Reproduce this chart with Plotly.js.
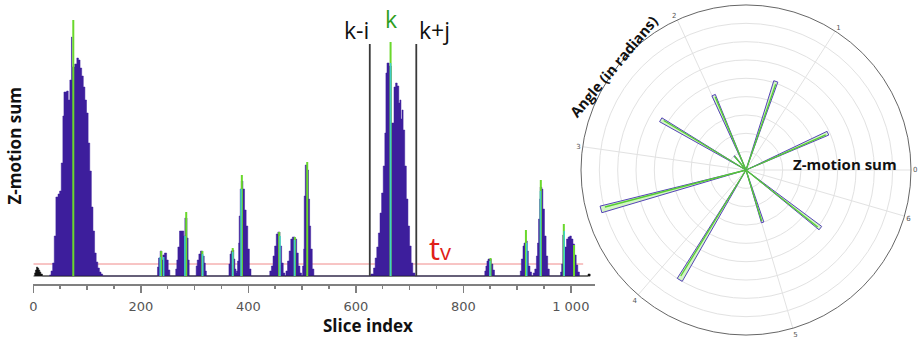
<!DOCTYPE html>
<html><head><meta charset="utf-8">
<script src="https://cdn.plot.ly/plotly-3.0.1.min.js"></script>
<style>html,body{margin:0;padding:0;background:#fff;}#chart{width:921px;height:340px;}</style>
</head><body><div id="chart"></div>
<script>
// ---- Histogram envelope (slice index, Z-motion sum), step-wise ----
const histX = [
  30,33,36,39,42,46,49,52,55,57,62,65,68,71,72,77,81,84,87,90,93,96,99,102,105,108,111,114,117,120,123,126,129,
  231,233,236,239,241,244,248,251,254,
  265,267,269,272,280,282,286,288,290,
  303,305,308,311,315,318,320,322,
  364,366,368,370,373,375,
  377,378,380,382,383,385,387,390,393,396,399,402,405,
  440,443,446,449,452,455,459,462,465,468,
  470,473,476,479,482,487,490,493,496,499,
  501,503,504,506,510,512,514,516,519,522,
  628,633,636,639,642,645,648,651,654,656,658,662,666,671,674,677,680,682,684,686,688,691,694,697,700,703,706,710,
  840,842,844,846,852,855,858,
  906,908,911,913,916,919,921,924,927,
  930,933,936,938,940,942,943,946,948,951,954,957,960,
  981,983,985,988,992,995,998,1001,1004,1007,1010,1013,1016
];
const histY = [
  1,5,13,40,79,82,85,113,160,184,185,176,196,239,209,212,218,216,208,200,189,176,163,133,105,69,45,23,14,8,4,2,0,
  9,18,25,16,21,23,16,6,0,
  7,16,29,45,40,58,38,16,0,
  10,16,22,25,20,13,5,0,
  12,22,25,26,17,7,
  3,5,15,33,60,87,95,87,66,50,27,7,0,
  5,10,20,30,42,44,30,13,3,0,
  5,15,25,37,39,37,23,10,3,0,
  10,27,80,111,106,77,50,27,7,0,
  2,8,18,29,43,63,83,110,143,203,213,210,153,189,193,190,173,176,157,166,146,110,77,50,30,13,3,0,
  5,10,15,17,12,6,0,
  5,17,30,33,35,25,10,4,0,
  3,7,20,33,57,77,89,87,67,40,20,7,0,
  4,12,41,29,37,39,40,37,32,21,11,4,0
];
const blackX = [2,4,6,8,10,12,14,17, 1032,1036];
const blackY = [3,6,9,8,6,4,2,0, 2,0];
// peak markers (green) and boundary markers (cyan)
const peakX = [74.4,238,284.5,314.5,371,388,457.5,486.5,509.6,664.7,850.6,916.5,944.2,987,1006];
const peakY = [256,25,64,25,28,101,44,39,114,234,18,46,96,52,31];
const cyanX = [236,242.5,282,315,371,386.5,459,486,664.7,849.5,918,943.5,987.8];
const cyanY = [19,19,40,22,24,87,40,36,213,15,33,85,45];
// window k-i, k+j and threshold t_v
const windowX = [626,712.5];
const windowTop = 232;
const thresholdTv = 12;
const thresholdEnd = 1023;
const baselineEnd = 1036;
// x ticks
const tickVals = [0,200,400,600,800,1000];
const tickText = ['0','200','400','600','800','1 000'];
// polar star: angle (degrees) and Z-motion sum
const spikeDeg = [24.2,71.4,113.4,130,149.5,195.2,238.9,287.6,322];
const spikeLen = [4.9,5.1,4.45,1.0,5.4,8.2,7.0,3.0,5.15];
const angTickRad = [0,1,2,3,4,5,6];

const W=921,H=340;
const PX=x=>x/W, PY=y=>1-y/H;

function segs(xs, ys){
  const X=[],Y=[];
  xs.forEach((x,i)=>{X.push(x,x,null);Y.push(0,ys[i],null);});
  return {X,Y};
}
const g=segs(peakX,peakY), c=segs(cyanX,cyanY);
const wl=segs(windowX, windowX.map(()=>windowTop));

const purple='#3d1e9c';
const traces = [
  {x:[0,thresholdEnd],y:[thresholdTv,thresholdTv],mode:'lines',line:{color:'#f08a8a',width:1},hoverinfo:'skip'},
  {x:[0,baselineEnd],y:[0,0],mode:'lines',line:{color:'#9a9a9a',width:2},hoverinfo:'skip'},
  {x:histX,y:histY,mode:'lines',line:{shape:'hv',color:purple,width:0.5},fill:'tozeroy',fillcolor:purple,hoverinfo:'skip'},
  {x:blackX,y:blackY,mode:'lines',line:{shape:'hv',color:'#111',width:0.5},fill:'tozeroy',fillcolor:'#111',hoverinfo:'skip'},
  {x:g.X,y:g.Y,mode:'lines',line:{color:'#6ad82c',width:2},hoverinfo:'skip'},
  {x:c.X,y:c.Y,mode:'lines',line:{color:'#3fd0c8',width:1.5},hoverinfo:'skip'},
  {x:wl.X,y:wl.Y,mode:'lines',line:{color:'#3a3a3a',width:1.8},hoverinfo:'skip'},
  {x:[0],y:[0],xaxis:'x2',yaxis:'y',mode:'markers',marker:{opacity:0},hoverinfo:'skip'}
];
const w=1.3;
spikeDeg.forEach((t,i)=>{
  const L=spikeLen[i];
  traces.push({type:'scatterpolar',subplot:'polar',r:[0,L,L,0],theta:[t,t-w,t+w,t],mode:'lines',
    fill:'toself',fillcolor:'rgba(200,245,180,0.8)',line:{color:'#5542b8',width:1},hoverinfo:'skip'});
  traces.push({type:'scatterpolar',subplot:'polar',r:[0,L*0.97],theta:[t-0.3,t-0.5],mode:'lines',
    line:{color:'#55cc33',width:1.3},hoverinfo:'skip'});
});

const tf={family:'Open Sans',color:'#111'};
function ann(text,x,y,font,extra){
  return Object.assign({text:text,xref:'paper',yref:'paper',x:PX(x),y:PY(y),xanchor:'center',yanchor:'middle',showarrow:false,font:font},extra||{});
}
const layout = {
  width:W,height:H,margin:{l:0,r:0,t:0,b:0},paper_bgcolor:'#fff',plot_bgcolor:'rgba(0,0,0,0)',
  showlegend:false,
  xaxis:{domain:[PX(33.3),PX(595)],range:[0,1045],showgrid:false,zeroline:false,showline:true,
    linecolor:'#808080',linewidth:2,ticks:'outside',ticklen:7,tickwidth:1.5,tickcolor:'#808080',
    tickmode:'array',tickvals:tickVals,ticktext:tickText,
    tickfont:{family:'DejaVu Sans',size:13,color:'#555'},ticklabelstandoff:2,
    minor:{ticks:'outside',tickmode:'linear',tick0:0,dtick:50,ticklen:3,tickwidth:1.5,tickcolor:'#808080',showgrid:false},
    anchor:'y',fixedrange:true},
  xaxis2:{overlaying:'x',anchor:'y',range:[0,1045],showline:false,showgrid:false,zeroline:false,
    ticks:'outside',ticklen:5,tickwidth:1.5,tickcolor:'#808080',tickmode:'linear',tick0:0,dtick:100,showticklabels:false},
  yaxis:{domain:[PY(284),PY(10)],range:[-8,266],showgrid:false,zeroline:false,showline:false,showticklabels:false,ticks:'',fixedrange:true},
  polar:{domain:{x:[PX(746-165),PX(746+165)],y:[PY(335),PY(5)]},bgcolor:'rgba(0,0,0,0)',
    radialaxis:{range:[0,9],dtick:1,showticklabels:false,ticks:'',showline:false,gridcolor:'#e2e2e2',gridwidth:1},
    angularaxis:{tickmode:'array',tickvals:angTickRad.map(r=>r*180/Math.PI),ticktext:angTickRad.map(String),
      direction:'counterclockwise',rotation:0,gridcolor:'#e2e2e2',linecolor:'#666',linewidth:1,ticks:'',
      tickfont:{family:'DejaVu Sans',size:7,color:'#555'}}},
  annotations:[
    ann('<b>Z-motion sum</b>',13.5,146,Object.assign({size:17},tf),{textangle:-90}),
    ann('<b>Slice index</b>',368,325,Object.assign({size:17},tf)),
    ann('k-i',356,30,Object.assign({size:23},tf)),
    ann('k',391,19,{family:'Open Sans',size:23,color:'#2e9e1e'}),
    ann('k+j',434.5,30,Object.assign({size:23},tf)),
    ann('t<span style="font-size:22px">v</span>',440,248,{family:'Open Sans',size:31,color:'#e02018'}),
    ann('<b>Z-motion sum</b>',845,164,Object.assign({size:15},tf)),
    ann('<b>Angle (in radians)</b>',614,67,Object.assign({size:14.5},tf),{textangle:-50})
  ]
};
Plotly.newPlot('chart',traces,layout,{staticPlot:true,displayModeBar:false});
</script></body></html>
